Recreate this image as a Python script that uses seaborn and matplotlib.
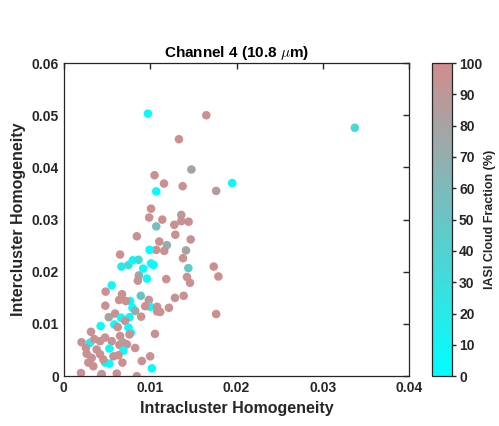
import numpy as np
import pandas as pd
import seaborn as sns
import matplotlib
matplotlib.use("Agg")
import matplotlib.pyplot as plt
from matplotlib.colors import LinearSegmentedColormap, Normalize
from matplotlib.cm import ScalarMappable

intra = [0.00973, 0.0165, 0.01333, 0.01477, 0.0105, 0.0116, 0.01376, 0.0107, 0.0195, 0.01764,
         0.0101, 0.00988, 0.0114, 0.0136, 0.0136, 0.01445, 0.0337, 0.01736, 0.0179, 0.01764,
         0.01279, 0.0107, 0.01291, 0.00845, 0.01105, 0.01469, 0.01194, 0.0107, 0.01163, 0.00992,
         0.01415, 0.00651, 0.0138, 0.01442, 0.00667, 0.00748, 0.00798, 0.00864, 0.0101, 0.0104,
         0.00919, 0.00868, 0.00961, 0.00857, 0.01186, 0.01426, 0.01461, 0.00554, 0.00484, 0.00674,
         0.00891, 0.00984, 0.01287, 0.01388, 0.0064, 0.00767, 0.00717, 0.0048, 0.00794, 0.0100,
         0.00942, 0.0108, 0.0108, 0.01217, 0.00826, 0.01116, 0.00593, 0.0052, 0.00663, 0.00895,
         0.0076, 0.0071, 0.00585, 0.00426, 0.00624, 0.00748, 0.00775, 0.00314, 0.0076, 0.01055,
         0.00205, 0.00302, 0.00353, 0.00419, 0.00477, 0.00554, 0.00651, 0.00682, 0.00643, 0.00729,
         0.00527, 0.0069, 0.00826, 0.00256, 0.00264, 0.0038, 0.00419, 0.00322, 0.00283, 0.00341,
         0.00574, 0.00632, 0.00477, 0.00527, 0.00678, 0.00457, 0.00903, 0.0100, 0.0102, 0.00198,
         0.00438, 0.0043, 0.00613, 0.00845]
inter = [0.0503, 0.0500, 0.0454, 0.0396, 0.0385, 0.0369, 0.0364, 0.0354, 0.0370, 0.0355,
         0.0321, 0.0304, 0.0300, 0.0309, 0.0297, 0.0296, 0.0476, 0.0210, 0.0191, 0.0119,
         0.0290, 0.0287, 0.0271, 0.0268, 0.0258, 0.0262, 0.0251, 0.0242, 0.0240, 0.0242,
         0.0241, 0.0233, 0.0226, 0.0207, 0.0210, 0.0213, 0.0222, 0.0223, 0.0216, 0.0213,
         0.0206, 0.0193, 0.0187, 0.0183, 0.0186, 0.0190, 0.0179, 0.0174, 0.0162, 0.0157,
         0.0154, 0.0146, 0.0150, 0.0154, 0.0146, 0.0144, 0.0144, 0.0135, 0.0131, 0.0133,
         0.0134, 0.0133, 0.0124, 0.0131, 0.0125, 0.0123, 0.0120, 0.0113, 0.0112, 0.0114,
         0.0113, 0.0106, 0.0099, 0.0096, 0.0094, 0.0093, 0.0083, 0.0085, 0.0080, 0.0081,
         0.0065, 0.0064, 0.0071, 0.0067, 0.0074, 0.0067, 0.0077, 0.0065, 0.0060, 0.0061,
         0.0053, 0.0049, 0.0054, 0.0054, 0.0043, 0.0051, 0.0042, 0.0035, 0.0026, 0.0019,
         0.0038, 0.0040, 0.0026, 0.0024, 0.0026, 0.0032, 0.0029, 0.0038, 0.0015, 0.0006,
         0.0004, 0.0000, 0.0005, 0.0000]
cloud = [5, 98, 97, 78, 96, 97, 95, 3, 8, 88,
         97, 96, 97, 90, 95, 97, 35, 97, 97, 97,
         96, 55, 96, 96, 97, 96, 70, 96, 96, 2,
         78, 96, 96, 45, 20, 30, 5, 30, 3, 5,
         3, 75, 2, 95, 96, 96, 96, 5, 96, 96,
         50, 96, 96, 96, 96, 5, 96, 96, 3, 5,
         96, 96, 96, 96, 75, 96, 96, 80, 5, 96,
         3, 96, 3, 5, 96, 5, 5, 96, 96, 96,
         96, 10, 96, 96, 96, 96, 96, 80, 96, 96,
         5, 3, 96, 96, 96, 96, 96, 96, 96, 96,
         96, 96, 3, 3, 96, 96, 96, 96, 3, 96,
         96, 88, 96, 96]

xticks = [0, 0.01, 0.02, 0.03, 0.04]
yticks = [0, 0.01, 0.02, 0.03, 0.04, 0.05, 0.06]
cticks = list(range(0, 101, 10))

df = pd.DataFrame({"intra": intra, "inter": inter, "cf": cloud})

sns.set_style("white")
plt.rcParams['font.family'] = ['Liberation Sans', 'DejaVu Sans']
plt.rcParams['font.weight'] = 'bold'
plt.rcParams['mathtext.fontset'] = 'cm'

cmap = LinearSegmentedColormap.from_list("cf", [(0.0, 1.0, 1.0), (0.82, 0.55, 0.55)])
norm = Normalize(0, 100)

fig = plt.figure(figsize=(4.99, 4.26), dpi=100)
ax = fig.add_axes([0.128, 0.117, 0.692, 0.735])
cax = fig.add_axes([0.866, 0.117, 0.040, 0.735])

sns.scatterplot(data=df, x="intra", y="inter", hue="cf", palette=cmap, hue_norm=norm,
                s=38, linewidth=0, legend=False, ax=ax)

ax.set_xlim(0, 0.04)
ax.set_ylim(0, 0.06)
ax.set_xticks(xticks)
ax.set_yticks(yticks)
ax.set_xticklabels(["0", "0.01", "0.02", "0.03", "0.04"], fontsize=10, fontweight='bold')
ax.set_yticklabels(["0", "0.01", "0.02", "0.03", "0.04", "0.05", "0.06"], fontsize=10, fontweight='bold')
ax.tick_params(direction='in', length=4, width=1, top=True, right=True, colors='#262626',
               labelcolor='#262626')
for sp in ax.spines.values():
    sp.set_visible(True)
    sp.set_color('#262626')
    sp.set_linewidth(0.9)
ax.set_xlabel("Intracluster Homogeneity", fontsize=11.5, fontweight='bold', color='#262626')
ax.set_ylabel("Intercluster Homogeneity", fontsize=11.5, fontweight='bold', color='#262626')
ax.set_title(r"Channel 4 (10.8 $\mu$m)", fontsize=11, fontweight='bold', color='black', pad=4)

sm = ScalarMappable(norm=norm, cmap=cmap)
cb = fig.colorbar(sm, cax=cax, ticks=cticks)
cb.outline.set_edgecolor('#262626')
cb.outline.set_linewidth(0.9)
cax.tick_params(direction='out', length=3, width=1, pad=2, colors='#262626', labelsize=10)
for t in cax.get_yticklabels():
    t.set_fontweight('bold')
cb.set_label("IASI Cloud Fraction (%)", fontsize=9, fontweight='bold', color='#262626', labelpad=1)

fig.savefig("out.png", dpi=100)
